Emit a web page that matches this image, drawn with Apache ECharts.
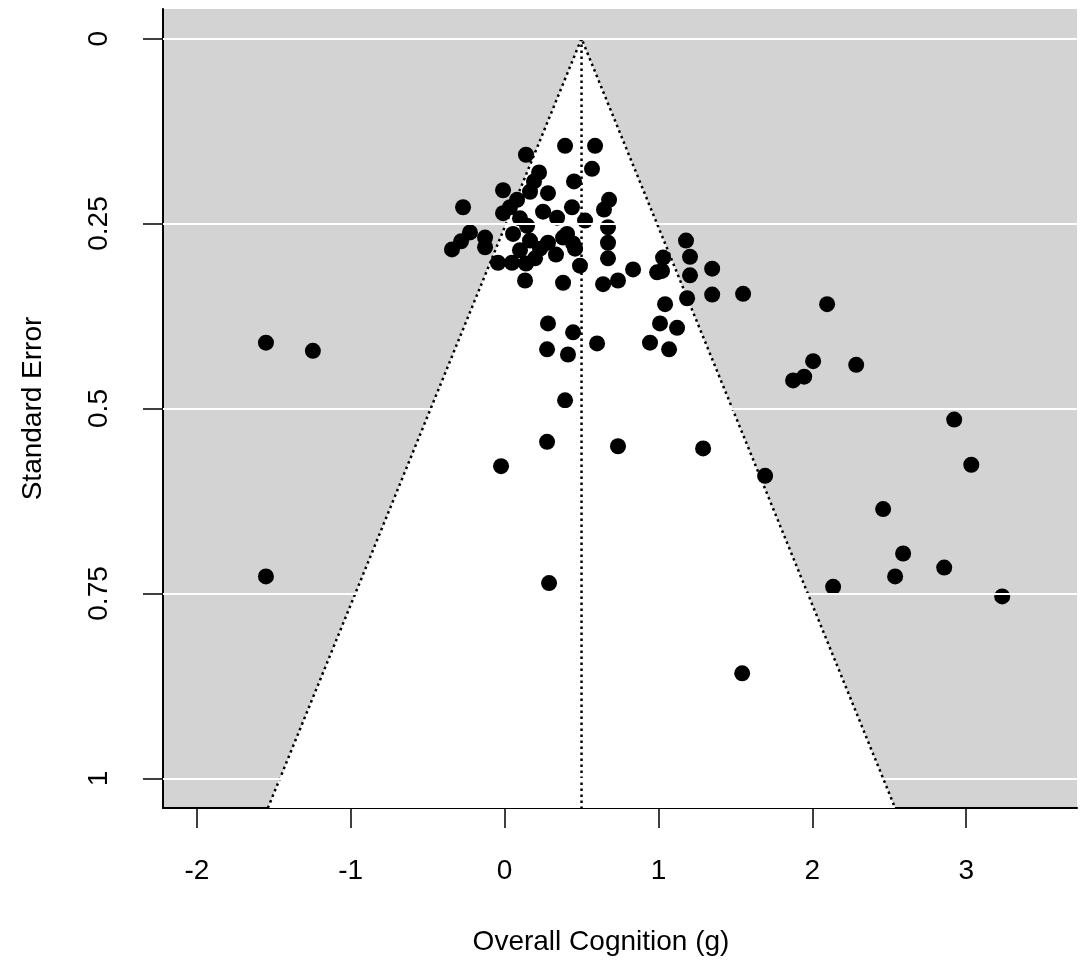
<!DOCTYPE html>
<html>
<head>
<meta charset="utf-8">
<script src="https://cdn.jsdelivr.net/npm/echarts@6/dist/echarts.min.js"></script>
<style>
  html, body { margin: 0; padding: 0; background: #fff; }
  #chart { width: 1082px; height: 962px; }
</style>
</head>
<body>
<div id="chart"></div>
<script>
// study estimates (g) and their standard errors
const effectSize = [
  -1.551, -1.246, -1.551, 0.289, -0.023, 0.276, 0.737, 1.290, 1.693, 0.393,
  1.544, 2.135, 2.538, 2.590, 2.857, 3.234, 2.460, 3.033, 2.922, 2.285,
  2.005, 1.947, 1.875, 2.096, 1.550, 0.282, 0.445, 0.601, 0.276, 0.412,
  1.010, 1.121, 0.945, 1.069, 1.043, 1.186, 1.349, 1.179, 1.205, 1.205,
  1.349, 1.030, 0.991, 1.023, 0.835, 0.737, 0.640, 0.672, 0.672, 0.672,
  0.679, 0.646, 0.588, 0.393, 0.139, 0.568, 0.224, 0.191, 0.451, 0.282,
  -0.010, 0.165, 0.081, -0.270, 0.035, -0.010, 0.250, 0.438, 0.341, 0.523,
  0.100, 0.146, 0.055, 0.165, 0.230, 0.380, 0.445, 0.282, 0.334, 0.100,
  0.198, 0.458, -0.225, -0.283, -0.342, -0.127, -0.127, -0.043, 0.048, 0.139,
  0.133, 0.380, 0.490, 0.406
];
const standardError = [
  0.411, 0.422, 0.727, 0.736, 0.578, 0.545, 0.551, 0.554, 0.591, 0.489,
  0.858, 0.741, 0.727, 0.696, 0.715, 0.754, 0.636, 0.576, 0.515, 0.441,
  0.436, 0.457, 0.462, 0.359, 0.345, 0.385, 0.397, 0.412, 0.420, 0.427,
  0.385, 0.391, 0.411, 0.420, 0.359, 0.351, 0.346, 0.273, 0.295, 0.320,
  0.311, 0.296, 0.316, 0.314, 0.312, 0.327, 0.332, 0.255, 0.276, 0.297,
  0.218, 0.231, 0.145, 0.145, 0.157, 0.176, 0.181, 0.193, 0.193, 0.209,
  0.205, 0.207, 0.218, 0.228, 0.228, 0.236, 0.234, 0.228, 0.242, 0.246,
  0.243, 0.253, 0.264, 0.273, 0.284, 0.269, 0.277, 0.276, 0.292, 0.286,
  0.297, 0.284, 0.262, 0.274, 0.285, 0.269, 0.282, 0.303, 0.303, 0.304,
  0.327, 0.330, 0.307, 0.264
];

const xTicks = [-2, -1, 0, 1, 2, 3];
const yTicks = [0, 0.25, 0.5, 0.75, 1];

// pooled estimate and funnel limits
const pooledEstimate = 0.5;
const zCrit = 1.96;
const seBottom = 1.04;

const chart = echarts.init(document.getElementById("chart"));

const points = effectSize.map((g, i) => [g, standardError[i]]);
const lo = pooledEstimate - zCrit * seBottom;
const hi = pooledEstimate + zCrit * seBottom;
const funnelEdges = [[lo, seBottom], [pooledEstimate, 0], [hi, seBottom]];
const centreLine = [[pooledEstimate, 0], [pooledEstimate, seBottom]];

const font = "Liberation Sans, Arial, sans-serif";

const option = {
  animation: false,
  grid: {
    left: 163,
    right: 5,
    top: 9,
    bottom: 154,
    show: true,
    backgroundColor: "#d3d3d3",
    borderWidth: 0,
  },
  xAxis: {
    type: "value",
    min: -2.22,
    max: 3.72,
    name: "Overall Cognition (g)",
    nameLocation: "middle",
    nameGap: 120,
    nameTextStyle: { fontSize: 28, color: "#000", fontFamily: font, padding: [0, 38, 0, 0] },
    axisLine: { show: true, onZero: false, lineStyle: { color: "#000", width: 2 } },
    axisTick: { show: true, length: 20, customValues: xTicks, lineStyle: { color: "#000", width: 1.5 } },
    axisLabel: { customValues: xTicks, margin: 49, fontSize: 28, color: "#000", fontFamily: font },
    splitLine: { show: false },
  },
  yAxis: {
    type: "value",
    inverse: true,
    min: -0.04,
    max: 1.04,
    name: "Standard Error",
    nameLocation: "middle",
    nameGap: 116,
    nameRotate: 90,
    nameTextStyle: { fontSize: 28, color: "#000", fontFamily: font },
    axisLine: { show: true, onZero: false, lineStyle: { color: "#000", width: 2 } },
    axisTick: { show: true, length: 20, customValues: yTicks, lineStyle: { color: "#000", width: 1.5 } },
    axisLabel: {
      customValues: yTicks,
      rotate: 90,
      margin: 50,
      fontSize: 28,
      color: "#000",
      fontFamily: font,
      formatter: (v) => String(v),
    },
    splitLine: { show: false },
  },
  series: [
    {
      // white reference lines on the grey background
      type: "line",
      data: [],
      z: 1,
      markLine: {
        silent: true,
        symbol: "none",
        label: { show: false },
        lineStyle: { color: "#fff", width: 2, type: "solid" },
        data: yTicks.map((v) => ({ yAxis: v })),
      },
    },
    {
      // white funnel region
      type: "custom",
      z: 2,
      silent: true,
      data: [[pooledEstimate, 0]],
      renderItem: function (params, api) {
        const pts = funnelEdges.map((p) => api.coord(p));
        return {
          type: "polygon",
          shape: { points: pts },
          style: { fill: "#fff", stroke: null },
        };
      },
    },
    {
      type: "line",
      z: 3,
      data: funnelEdges,
      symbol: "none",
      silent: true,
      lineStyle: { color: "#000", width: 2.5, type: [2.5, 3.5] },
    },
    {
      type: "line",
      z: 3,
      data: centreLine,
      symbol: "none",
      silent: true,
      lineStyle: { color: "#000", width: 2.5, type: [2.5, 3.5] },
    },
    {
      type: "scatter",
      z: 4,
      data: points,
      symbol: "circle",
      symbolSize: 16,
      itemStyle: { color: "#000", opacity: 1 },
    },
  ],
};

chart.setOption(option);
</script>
</body>
</html>
